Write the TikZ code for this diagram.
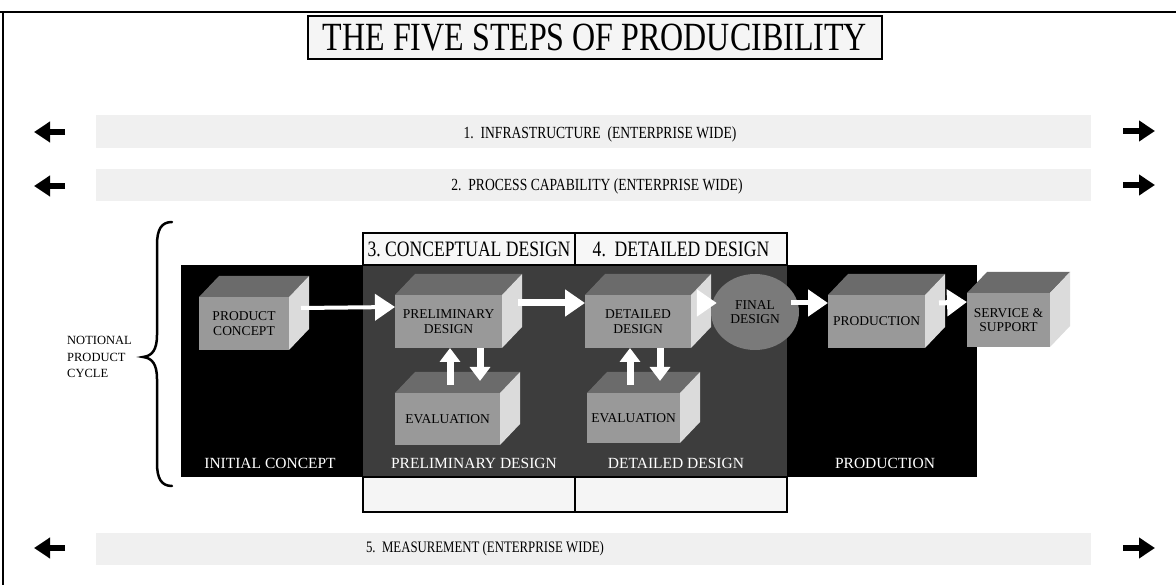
\documentclass[tikz,border=0pt]{standalone}
\usepackage{fontspec}
\setmainfont{Liberation Serif}
\newfontfamily\cond[FakeStretch=0.8]{Liberation Serif}
\usetikzlibrary{arrows.meta,calc,shapes.geometric}
\tikzset{
  band/.style={fill=black!6, draw=none, inner sep=0pt, outer sep=0pt},
  rowtext/.style={font=\cond\fontsize{17}{18}\selectfont, inner sep=1pt},
  sidearrow/.style={draw=black, line width=6pt, -{Triangle[width=20pt,length=16pt]}},
  labelbox/.style={draw=black, line width=1.2pt, fill=black!3, inner sep=0pt, outer sep=0pt, anchor=north west, minimum height=32pt, font=\cond\fontsize{22}{23}\selectfont},
  emptybox/.style={draw=black, line width=1.2pt, fill=black!4, inner sep=0pt, outer sep=0pt, anchor=north west, minimum height=35pt},
  front/.style={fill=black!40, inner sep=1pt, outer sep=0pt, anchor=north west, align=center, font=\fontsize{13.5}{14.5}\selectfont},
  topface/.style={fill=black!58},
  sideface/.style={fill=black!14},
  warrow/.style={draw=white, line width=5pt, -{Triangle[width=26pt,length=20pt]}},
  varrow/.style={draw=white, line width=7pt, -{Triangle[width=20pt,length=14pt]}},
  botlabel/.style={text=white, font=\fontsize{15.5}{16}\selectfont, inner sep=1pt},
  bracestyle/.style={draw=black, line width=2.5pt, line cap=round},
}
\newcommand\mycube[6]{%
  \node[front, minimum width=#4pt, minimum height=#5pt] (#1) at (#2,#3) {#6};
  \fill[topface] (#1.north west) -- ++(20,-21) -- ($(#1.north east)+(20,-21)$) -- (#1.north east) -- cycle;
  \fill[sideface] (#1.north east) -- ++(20,-21) -- ($(#1.south east)+(20,-21)$) -- (#1.south east) -- cycle;
}
\begin{document}
\begin{tikzpicture}[x=1pt,y=-1pt]
\useasboundingbox (0,0) rectangle (1176,585);
\fill[white] (0,0) rectangle (1176,585);
% frame
\draw[line width=2pt] (0,12) -- (1176,12);
\draw[line width=1.5pt] (3,12) -- (3,585);
% title
\node[draw=black, line width=1.2pt, fill=black!4, minimum width=574pt, minimum height=43pt, inner sep=0pt, font=\cond\fontsize{40}{42}\selectfont] (title) at (595,37.5) {THE FIVE STEPS OF PRODUCIBILITY};
% row bands
\node[band, minimum width=995pt, minimum height=33pt] (b1) at (593,132) {};
\node[band, minimum width=995pt, minimum height=32pt] (b2) at (593,185) {};
\node[band, minimum width=995pt, minimum height=32pt] (b5) at (593,549) {};
\node[rowtext] (t1) at (600,134) {1.\ \ INFRASTRUCTURE\ \ (ENTERPRISE WIDE)};
\node[rowtext] (t2) at (597,186) {2.\ \ PROCESS CAPABILITY (ENTERPRISE WIDE)};
\node[rowtext, font=\cond\fontsize{16}{17}\selectfont] (t5) at (485,549) {5.\ \ MEASUREMENT (ENTERPRISE WIDE)};
% side arrows
\coordinate (l1a) at (65,132); \coordinate (l1b) at (34,132);
\coordinate (r1a) at (1123,131); \coordinate (r1b) at (1155,131);
\coordinate (l2a) at (65,186); \coordinate (l2b) at (34,186);
\coordinate (r2a) at (1123,185); \coordinate (r2b) at (1155,185);
\coordinate (l5a) at (65,548); \coordinate (l5b) at (34,548);
\coordinate (r5a) at (1123,548); \coordinate (r5b) at (1155,548);
\draw[sidearrow] (l1a) -- (l1b);
\draw[sidearrow] (r1a) -- (r1b);
\draw[sidearrow] (l2a) -- (l2b);
\draw[sidearrow] (r2a) -- (r2b);
\draw[sidearrow] (l5a) -- (l5b);
\draw[sidearrow] (r5a) -- (r5b);
% brace and label
\coordinate (bt) at (172,222); \coordinate (bm) at (143,357); \coordinate (bb) at (172,486);
\draw[bracestyle] (bt) .. controls (161,222) and (157,230) .. (157,245) -- (157,335)
  .. controls (157,350) and (152,356) .. (bm)
  .. controls (152,358) and (157,364) .. (157,379) -- (157,463)
  .. controls (157,478) and (161,486) .. (bb);
\node[align=left, anchor=west, font=\fontsize{12.5}{16.5}\selectfont, inner sep=0pt] (npc) at (67,357) {NOTIONAL\\PRODUCT\\CYCLE};
% black area
\node[fill=black, minimum width=796pt, minimum height=212pt, inner sep=0pt, outer sep=0pt, anchor=north west] (blk) at (181,265) {};
\node[fill=black!76, minimum width=424pt, minimum height=212pt, inner sep=0pt, outer sep=0pt, anchor=north west] (cols) at (363,265) {};
% column labels
\node[labelbox, minimum width=212pt] (c3) at (363,233) {3.\ CONCEPTUAL DESIGN};
\node[labelbox, minimum width=212pt] (c4) at (575,233) {4.\ \ DETAILED DESIGN};
\node[emptybox, minimum width=212pt] (e3) at (363,477) {};
\node[emptybox, minimum width=212pt] (e4) at (575,477) {};
\draw[line width=2pt] (e3.south west) -- (e4.south east);
% cubes
\mycube{pc}{199}{297}{90}{53}{PRODUCT\\CONCEPT}
\mycube{pd}{395}{295}{107}{53}{PRELIMINARY\\DESIGN}
\mycube{ev3}{395}{393}{105}{52}{EVALUATION}
\mycube{dd}{585}{295}{106}{53}{DETAILED\\DESIGN}
\mycube{ev4}{587}{393}{93}{50}{EVALUATION}
\mycube{prod}{828}{295}{97}{53}{PRODUCTION}
\mycube{ss}{967}{293}{83}{54}{SERVICE \&\\SUPPORT}
\node[ellipse, fill=black!52, minimum width=88pt, minimum height=76pt, inner sep=0pt, align=center, font=\fontsize{13.5}{14.5}\selectfont] (fd) at (755,312) {FINAL\\DESIGN};
% white arrows
\draw[warrow, line width=4pt] ($(pc.north east)+(12,11)$) -- ($(pd.north west)+(0,12)$);
\draw[warrow, line width=7pt] ($(pd.north east)+(16,8)$) -- ($(dd.north west)+(0,8)$);
\draw[warrow] ($(dd.north east)+(14,8)$) -- ($(fd.west)+(6,-9)$);
\draw[warrow] ($(fd.east)+(-8,-9)$) -- ($(prod.north west)+(0,8)$);
\draw[warrow] ($(prod.north east)+(14,8)$) -- ($(ss.north west)+(0,9)$);
\draw[varrow] ($(ev3.north west)+(55,-8)$) -- ($(pd.south west)+(55,0)$);
\draw[varrow] ($(pd.south west)+(85,0)$) -- ($(ev3.north west)+(85,-12)$);
\draw[varrow] ($(ev4.north west)+(43,-8)$) -- ($(dd.south west)+(45,0)$);
\draw[varrow] ($(dd.south west)+(75,0)$) -- ($(ev4.north west)+(73,-12)$);
% bottom labels
\node[botlabel] (lic) at (270,463) {INITIAL CONCEPT};
\node[botlabel] (lpd) at (474,463) {PRELIMINARY DESIGN};
\node[botlabel] (ldd) at (676,463) {DETAILED DESIGN};
\node[botlabel] (lpr) at (885,463) {PRODUCTION};
\end{tikzpicture}
\end{document}
